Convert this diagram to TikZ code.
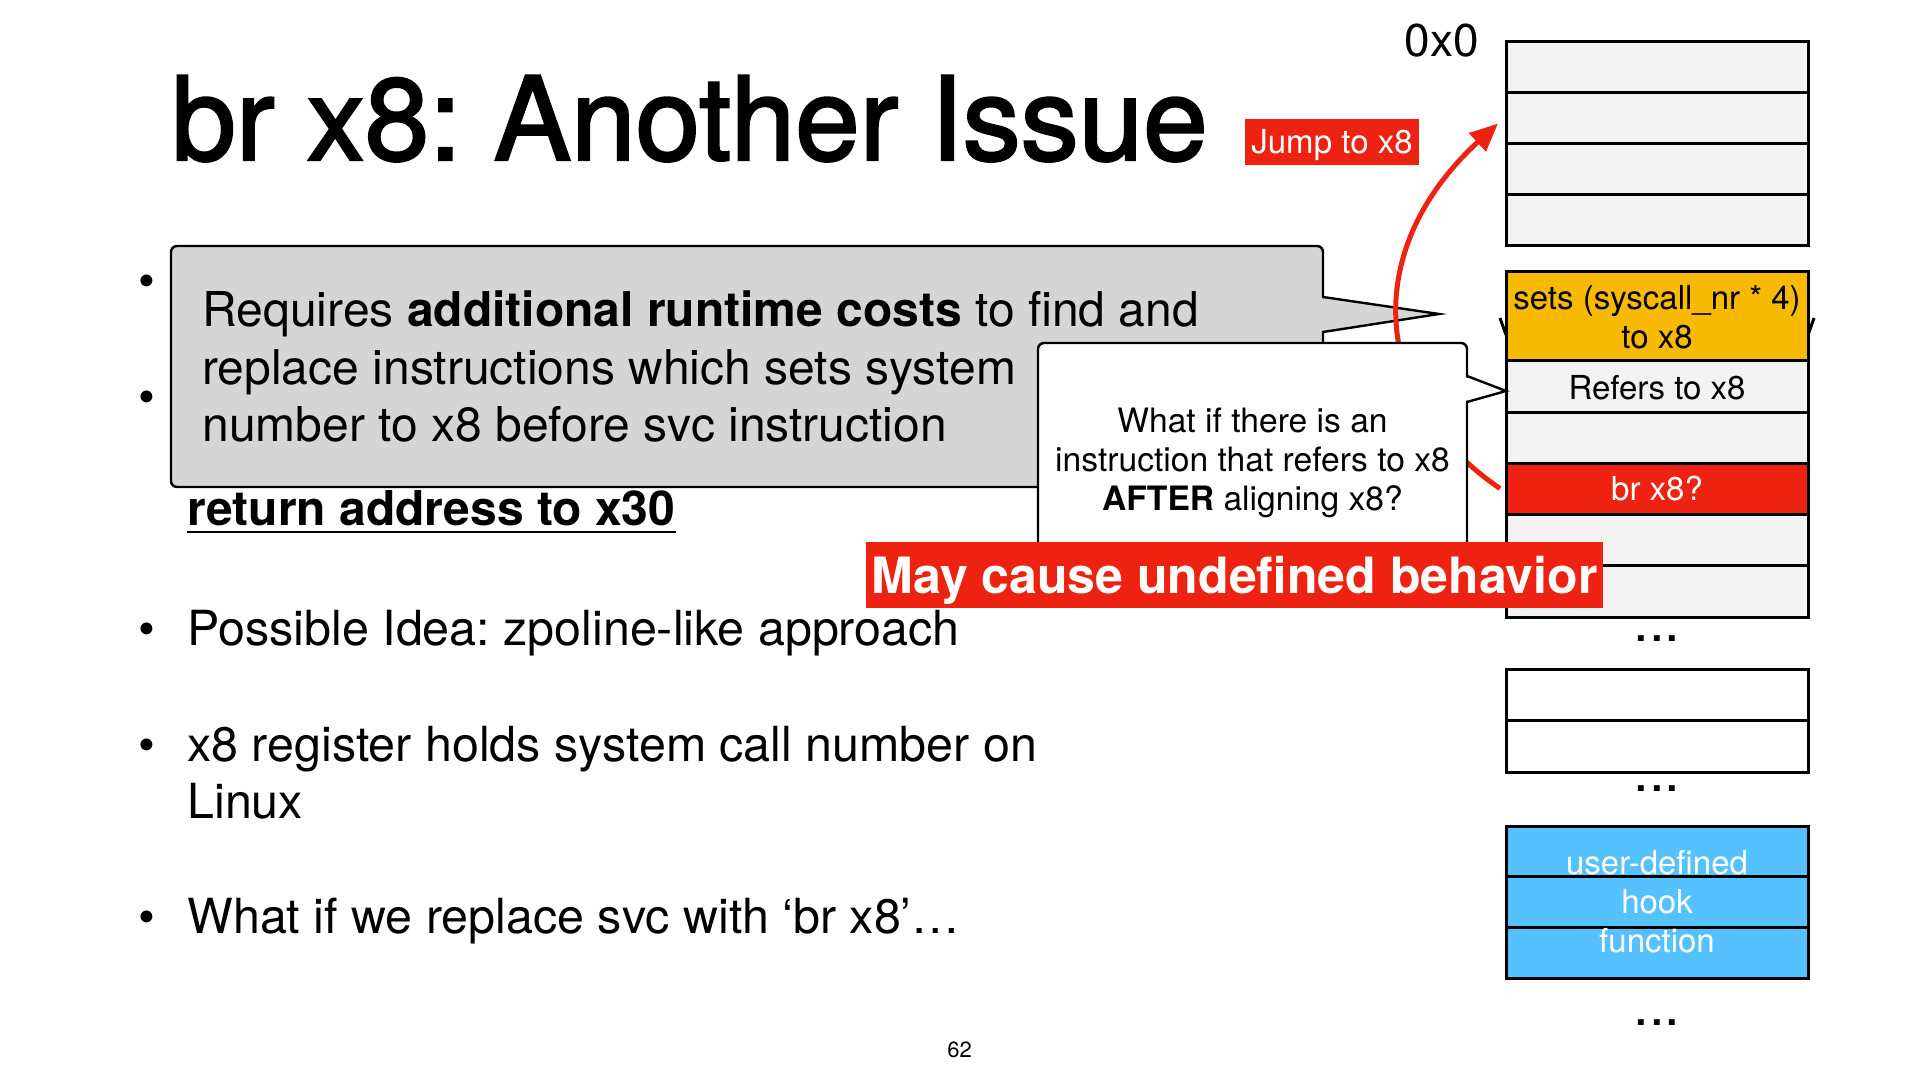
\documentclass[tikz,border=0pt]{standalone}
\usepackage{fontspec}
\setmainfont{TeX Gyre Heros}
\newfontfamily\titlefont{TeX Gyre Heros}[FakeBold=2]
\usetikzlibrary{arrows.meta}
\definecolor{kred}{HTML}{EE2211}
\definecolor{korange}{HTML}{F8BA00}
\definecolor{kblue}{HTML}{56C1FF}
\definecolor{kgray}{HTML}{D5D5D5}
\definecolor{kcell}{HTML}{F2F2F2}
\frenchspacing
\begin{document}
\begin{tikzpicture}[x=0.5pt,y=-0.5pt,
  cell/.style={draw=black, line width=1.5pt, fill=kcell, minimum width=151pt, inner sep=0pt, outer sep=0pt, anchor=north west},
  body/.style={inner sep=0pt, anchor=base west, font=\fontsize{24.2}{28}\selectfont},
  cbody/.style={inner sep=0pt, anchor=base west, font=\fontsize{24}{28}\selectfont},
  bul/.style={inner sep=0pt, anchor=base, font=\fontsize{24}{28}\selectfont},
  small/.style={inner sep=0pt, anchor=base, font=\fontsize{16.5}{19.5}\selectfont},
  cw/.style={inner sep=0pt, anchor=base, font=\fontsize{16.8}{19.5}\selectfont},
  dotsty/.style={inner sep=0pt, anchor=base, font=\fontsize{28}{30}\selectfont},
  callout/.style={draw=black, line width=1.2pt},
  redarrow/.style={draw=kred, line width=2.5pt, -{Triangle[length=14pt,width=12pt]}},
  redbox/.style={anchor=base, fill=kred, text=white, inner xsep=0pt, inner ysep=4pt},
]
\fill[white] (0,0) rectangle (1920,1080);
\useasboundingbox (0,0) rectangle (1920,1080);

% title and address
\node[inner sep=0pt, anchor=base west, font={\titlefont\fontsize{58}{60}\selectfont}] (title) at (171,160) {br x8: Another Issue};
\node[inner sep=0pt, anchor=base, font=\fontsize{23}{26}\selectfont] (addr) at (1441.5,57) {0x0};

% bullets
\node[bul] (b1) at (147,298) {•};
\node[bul] (b2) at (147,413) {•};
\node[body, font={\fontsize{24}{28}\selectfont\bfseries}] (ret) at (187,525) {return address to x30};
\draw[line width=1.2pt] ([yshift=-3.5pt]ret.base west) -- ([yshift=-3.5pt]ret.base east);
\node[bul] (b3) at (147,645) {•};
\node[body] (l3) at (187,645) {Possible Idea: zpoline-like approach};
\node[bul] (b4) at (147,761) {•};
\node[body] (l4a) at (187,761) {x8 register holds system call number on};
\node[body] (l4b) at (187,818) {Linux};
\node[bul] (b5) at (147,933) {•};
\node[body] (l5) at (187,933) {What if we replace svc with ‘br x8’…};
\node[inner sep=0pt, anchor=base, font=\fontsize{11}{13}\selectfont] (pg) at (959.5,1057) {62};

% memory column: top group
\node[cell, minimum height=25.5pt] (t1) at (1506,42) {};
\node[cell, minimum height=25.5pt] (t2) at (1506,93) {};
\node[cell, minimum height=25.5pt] (t3) at (1506,144) {};
\node[cell, minimum height=25.5pt] (t4) at (1506,195) {};

% second group
\draw[line width=1.5pt] (1500,318) -- (1506,335);
\draw[line width=1.5pt] (1814,318) -- (1808,335);
\node[cell, fill=korange, minimum height=44.5pt] (o1) at (1506,272) {};
\node[cell, minimum height=25.5pt] (r1) at (1506,361) {};
\node[cell, minimum height=25.5pt] (r2) at (1506,412) {};
\node[cell, fill=kred, minimum height=25.5pt] (br) at (1506,463) {};
\node[cell, minimum height=25.5pt] (r3) at (1506,514) {};
\node[cell, minimum height=26pt] (r4) at (1506,565) {};
\node[small] (o1a) at (1657,310) {sets (syscall\_nr * 4)};
\node[small] (o1b) at (1657,349) {to x8};
\node[small] (r1t) at (1657,400) {Refers to x8};
\node[small, text=white] (brt) at (1657,500) {br x8?};
\node[dotsty] (d1) at (1657,641) {...};

% third group
\node[cell, fill=white, minimum height=25.5pt] (w1) at (1506,669) {};
\node[cell, fill=white, minimum height=26pt] (w2) at (1506,720) {};
\node[dotsty] (d2) at (1657,791) {...};

% hook group
\node[cell, fill=kblue, minimum height=25pt] (u1) at (1506,826) {};
\node[cell, fill=kblue, minimum height=25.5pt] (u2) at (1506,876) {};
\node[cell, fill=kblue, minimum height=25.5pt] (u3) at (1506,927) {};
\node[small, text=white] (h1) at (1657,874) {user-defined};
\node[small, text=white] (h2) at (1657,913) {hook};
\node[small, text=white] (h3) at (1657,952) {function};
\node[dotsty] (d3) at (1657,1025) {...};

% gray callout
\draw[callout, fill=kgray, rounded corners=3pt] (171,246) rectangle (1323,487);
\fill[kgray] (1321,298) -- (1439,314) -- (1321,331) -- cycle;
\draw[callout] (1323,297) -- (1439,314) -- (1323,332);
\node[cbody] (g1) at (202,327) {Requires \textbf{additional runtime costs} to find and};
\node[cbody] (g2) at (202,384) {replace instructions which sets system};
\node[cbody] (g3) at (202,441) {number to x8 before svc instruction};

% jump arrow
\draw[redarrow] ([xshift=-3pt]br.west) .. controls (1370,400) and (1360,250) .. ([shift={(-4pt,-2.5pt)}]t2.west);

% white callout
\draw[callout, fill=white, rounded corners=3pt] (1038,343) rectangle (1467,580);
\fill[white] (1465,377) -- (1506,391) -- (1465,401) -- cycle;
\draw[callout] (1467,376) -- (1506,391) -- (1467,402);
\node[cw] (q1) at (1252.5,432) {What if there is an};
\node[cw] (q2) at (1252.5,471) {instruction that refers to x8};
\node[cw] (q3) at (1252.5,510) {\textbf{AFTER} aligning x8?};

% banner and label
\node[redbox, minimum width=368.5pt, text height=21.5pt, text depth=3.5pt, font={\fontsize{25}{28}\selectfont\bfseries}] (warn) at (1234.5,593) {May cause undefined behavior};
\node[redbox, minimum width=87pt, text height=13.5pt, text depth=1.5pt, font=\fontsize{16.5}{19}\selectfont] (jump) at (1332,154) {Jump to x8};
\end{tikzpicture}
\end{document}
